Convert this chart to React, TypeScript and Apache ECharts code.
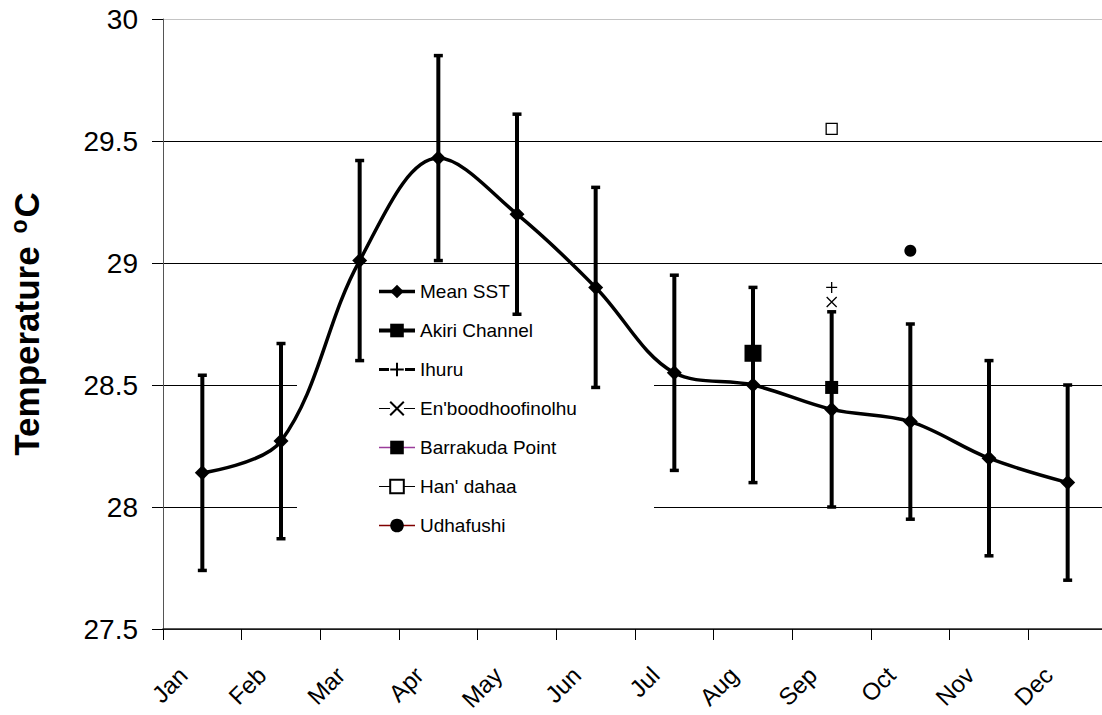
import { useEffect, useRef } from "react";
import * as echarts from "echarts";

// Monthly mean sea surface temperature with ±1 SD error bars
const months = ["Jan", "Feb", "Mar", "Apr", "May", "Jun", "Jul", "Aug", "Sep", "Oct", "Nov", "Dec"];
const meanSST = [28.14, 28.27, 29.01, 29.43, 29.2, 28.9, 28.55, 28.5, 28.4, 28.35, 28.2, 28.1];
const sstSD = [0.4, 0.4, 0.41, 0.42, 0.41, 0.41, 0.4, 0.4, 0.4, 0.4, 0.4, 0.4];

// Single survey readings at individual dive sites
const siteNames = ["Akiri Channel", "Ihuru", "En'boodhoofinolhu", "Barrakuda Point", "Han' dahaa", "Udhafushi"];
const siteMonths = ["Aug", "Sep", "Sep", "Sep", "Sep", "Oct"];
const siteValues = [28.63, 28.9, 28.84, 28.49, 29.55, 29.05];

// Value axis range
const yMin = 27.5;
const yMax = 30;
const yStep = 0.5;

const FONT = 'Arial, "Liberation Sans", sans-serif';

const plusPath = "path://M0,5L10,5M5,0L5,10";
const crossPath = "path://M0,0L10,10M10,0L0,10";

// Per-site marker and legend-line styling
const siteStyles: any[] = [
  { symbol: "rect", symbolSize: 17, itemStyle: { color: "#000", borderWidth: 0 }, lineStyle: { color: "#000", width: 4 } },
  { symbol: plusPath, symbolSize: 11, itemStyle: { color: "transparent", borderColor: "#000", borderWidth: 1.3 }, lineStyle: { color: "#000", width: 3, type: [10, 16] } },
  { symbol: crossPath, symbolSize: 10, itemStyle: { color: "transparent", borderColor: "#000", borderWidth: 1.3 }, lineStyle: { color: "#000", width: 1.2, type: [11, 14] } },
  { symbol: "rect", symbolSize: 13, itemStyle: { color: "#000", borderWidth: 0 }, lineStyle: { color: "#9a3c9a", width: 1.5 } },
  { symbol: "rect", symbolSize: 11, itemStyle: { color: "#fff", borderColor: "#000", borderWidth: 1.3 }, lineStyle: { color: "#000", width: 1.2 } },
  { symbol: "circle", symbolSize: 12, itemStyle: { color: "#000", borderWidth: 0 }, lineStyle: { color: "#800000", width: 1.5 } },
];

const meanLine = { color: "#000", width: 3.5 };

export default function App() {
  const ref = useRef<HTMLDivElement>(null);

  useEffect(() => {
    if (!ref.current) return;
    const chart = echarts.init(ref.current, undefined, { renderer: "svg" });

    const errorData = months.map((_, i) => [i, meanSST[i] - sstSD[i], meanSST[i] + sstSD[i]]);

    const siteSeries = siteNames.map((name, k) => ({
      name,
      type: "line",
      z: 4,
      data: months.map((m) => (m === siteMonths[k] ? siteValues[k] : null)),
      symbol: siteStyles[k].symbol,
      symbolSize: siteStyles[k].symbolSize,
      itemStyle: siteStyles[k].itemStyle,
      lineStyle: siteStyles[k].lineStyle,
      connectNulls: false,
    }));

    const legendData = [
      { name: "Mean SST", lineStyle: meanLine },
      ...siteNames.map((name, k) => ({ name, lineStyle: siteStyles[k].lineStyle })),
    ];

    const option: any = {
      animation: false,
      backgroundColor: "#fff",
      textStyle: { fontFamily: FONT },
      grid: { left: 163, right: 3, top: 19, bottom: 86, containLabel: false, outerBoundsMode: "none" },
      graphic: [
        {
          type: "rect",
          left: 297,
          top: 268,
          shape: { width: 357, height: 285 },
          style: { fill: "#fff" },
          z: 1,
          silent: true,
        },
      ],
      legend: {
        show: true,
        orient: "vertical",
        left: 377,
        top: 282,
        padding: 0,
        itemWidth: 36,
        itemHeight: 17,
        itemGap: 20,
        selectedMode: false,
        data: legendData,
        textStyle: { fontFamily: FONT, fontSize: 19, color: "#000", lineHeight: 19 },
      },
      xAxis: {
        type: "category",
        data: months,
        boundaryGap: true,
        axisLine: { onZero: false, lineStyle: { color: "#222", width: 1.5 } },
        axisTick: { show: true, interval: 0, length: 11, lineStyle: { color: "#000", width: 1 } },
        axisLabel: {
          interval: 0,
          rotate: 45,
          margin: 23,
          padding: [0, 27, 0, 0],
          lineHeight: 22,
          fontFamily: FONT,
          fontSize: 24,
          color: "#000",
        },
        splitLine: { show: false },
      },
      yAxis: {
        type: "value",
        min: yMin,
        max: yMax,
        interval: yStep,
        name: "Temperature {sup|o}C",
        nameLocation: "middle",
        nameGap: 118,
        nameRotate: 90,
        nameTextStyle: {
          fontFamily: FONT,
          fontSize: 35,
          fontWeight: "bold",
          color: "#000",
          rich: {
            sup: { fontFamily: FONT, fontSize: 23, fontWeight: "bold", color: "#000", verticalAlign: "top", padding: [0, 2, 15, 3] },
          },
        },
        axisLine: { show: true, lineStyle: { color: "#555", width: 1 } },
        axisTick: { show: true, length: 11, lineStyle: { color: "#000", width: 1 } },
        axisLabel: { margin: 25, fontFamily: FONT, fontSize: 28, color: "#000" },
        splitLine: {
          show: true,
          lineStyle: { color: ["#000", "#000", "#000", "#000", "#000", "#c4c4c4"], width: 1 },
        },
      },
      series: [
        {
          name: "SD",
          type: "custom",
          z: 2,
          data: errorData,
          encode: { x: 0, y: [1, 2] },
          renderItem: (_params: any, api: any) => {
            const xi = api.value(0);
            const lo = api.coord([xi, api.value(1)]);
            const hi = api.coord([xi, api.value(2)]);
            const cap = 4.5;
            const stroke = { stroke: "#000", lineWidth: 4 };
            const capStroke = { stroke: "#000", lineWidth: 3.5 };
            return {
              type: "group",
              children: [
                { type: "line", shape: { x1: lo[0], y1: lo[1], x2: hi[0], y2: hi[1] }, style: stroke },
                { type: "line", shape: { x1: lo[0] - cap, y1: lo[1], x2: lo[0] + cap, y2: lo[1] }, style: capStroke },
                { type: "line", shape: { x1: hi[0] - cap, y1: hi[1], x2: hi[0] + cap, y2: hi[1] }, style: capStroke },
              ],
            };
          },
        },
        {
          name: "Mean SST",
          type: "line",
          z: 3,
          data: meanSST,
          smooth: 0.35,
          symbol: "diamond",
          symbolSize: 15,
          itemStyle: { color: "#000", borderWidth: 0 },
          lineStyle: meanLine,
        },
        ...siteSeries,
      ],
    };

    chart.setOption(option);
    return () => chart.dispose();
  }, []);

  return (
    <div style={{ position: "absolute", left: 0, top: 0, width: 1102, height: 715, overflow: "hidden", background: "#fff" }}>
      <div ref={ref} style={{ width: 1110, height: 715 }} />
    </div>
  );
}
